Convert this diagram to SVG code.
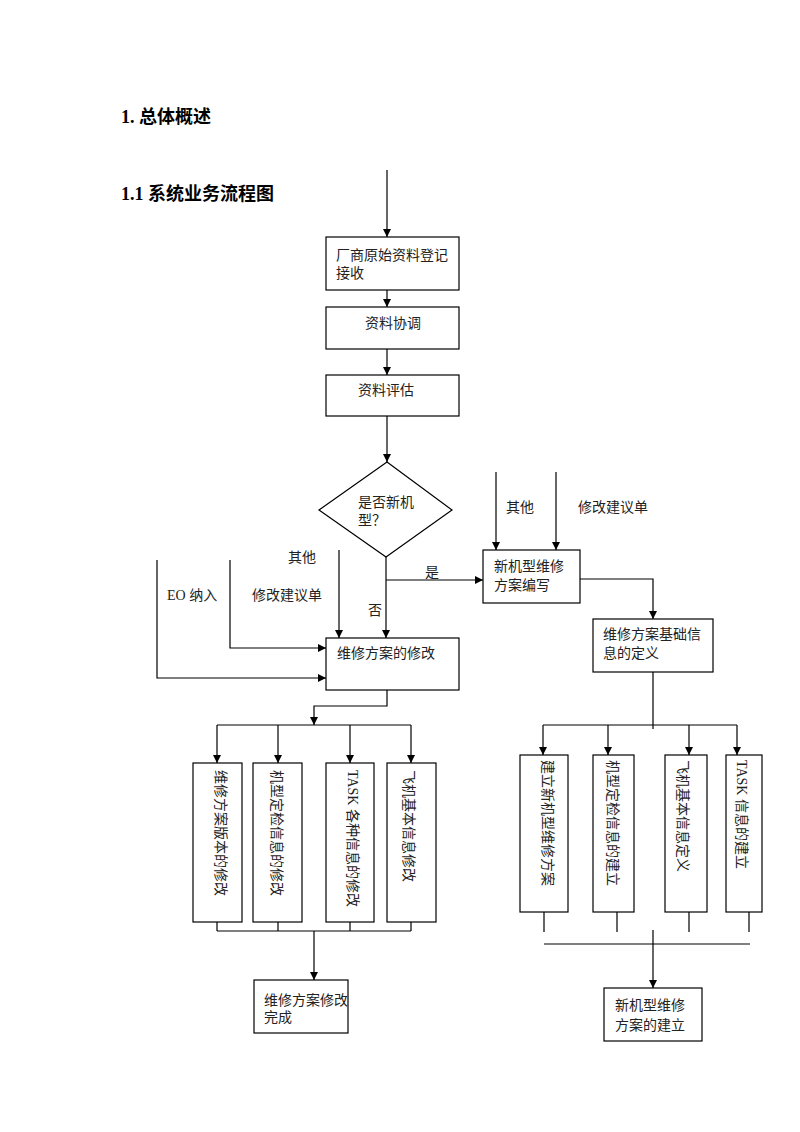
<svg xmlns="http://www.w3.org/2000/svg" width="800" height="1132" viewBox="0 0 800 1132">
<defs>
<marker id="arr" viewBox="0 0 10 10" refX="10" refY="5" markerWidth="8" markerHeight="8" markerUnits="userSpaceOnUse" orient="auto">
<path d="M0,0 L10,5 L0,10 z" fill="#000"/>
</marker>
<style>
.t{font-family:"Liberation Serif","Noto Sans CJK SC",serif;font-size:14px;fill:#222}
.h{font-family:"Liberation Serif","Noto Sans CJK SC",sans-serif;font-size:18px;font-weight:bold;fill:#000}
.b{fill:#fff;stroke:#000;stroke-width:1.2}
.l{fill:none;stroke:#000;stroke-width:1.2}
.a{fill:none;stroke:#000;stroke-width:1.2;marker-end:url(#arr)}
</style>
</defs>
<rect width="800" height="1132" fill="#fff"/>
<g id="titles">
<text class="h" x="121" y="123">1. 总体概述</text>
<text class="h" x="121" y="200">1.1 系统业务流程图</text>
</g>
<g id="connectors">
<path class="a" d="M387,170 V237"/>
<path class="a" d="M387,290 V307"/>
<path class="a" d="M387,349 V375"/>
<path class="a" d="M387,416 V462"/>
<path class="a" d="M386,557 V638"/>
<path class="a" d="M386,580 H483"/>
<path class="a" d="M339,550 V638"/>
<path class="a" d="M230,560 V648 H326"/>
<path class="a" d="M157,560 V678 H326"/>
<path class="a" d="M496,472 V550"/>
<path class="a" d="M556,472 V550"/>
<path class="a" d="M580,579 H653 V619"/>
<path class="a" d="M387,690 V706 H314 V725"/>
<path class="l" d="M217,725 H411"/>
<path class="a" d="M217,725 V763"/>
<path class="a" d="M278,725 V763"/>
<path class="a" d="M350,725 V763"/>
<path class="a" d="M411,725 V763"/>
<path class="l" d="M217,918 V931 M278,918 V931 M350,918 V931 M411,918 V931 M217,931 H411"/>
<path class="a" d="M314,931 V980"/>
<path class="l" d="M653,672 V729 M543,725 H737"/>
<path class="a" d="M543,725 V755"/>
<path class="a" d="M608,725 V755"/>
<path class="a" d="M689,725 V755"/>
<path class="a" d="M737,725 V755"/>
<path class="l" d="M544,900 V932 M617,900 V932 M689,900 V932 M749,900 V932 M544,944 H750"/>
<path class="a" d="M653,930 V988"/>
</g>
<g id="labels">
<text class="t" x="288" y="562">其他</text>
<text class="t" x="252" y="600">修改建议单</text>
<text class="t" x="167" y="600">EO 纳入</text>
<text class="t" x="425" y="577">是</text>
<text class="t" x="368" y="615">否</text>
<text class="t" x="506" y="512">其他</text>
<text class="t" x="578" y="512">修改建议单</text>
</g>
<g id="n1"><rect class="b" x="326" y="237" width="133" height="53"/>
<text class="t" x="336" y="260">厂商原始资料登记</text><text class="t" x="336" y="278">接收</text></g>
<g id="n2"><rect class="b" x="326" y="307" width="133" height="42"/>
<text class="t" x="365" y="328">资料协调</text></g>
<g id="n3"><rect class="b" x="326" y="375" width="133" height="41"/>
<text class="t" x="358" y="395">资料评估</text></g>
<g id="n4"><path class="b" d="M387,462 L452,510 L386,557 L319,510 Z"/>
<text class="t" x="358" y="507">是否新机</text><text class="t" x="358" y="525">型？</text></g>
<g id="n5"><rect class="b" x="326" y="638" width="133" height="52"/>
<text class="t" x="337" y="658">维修方案的修改</text></g>
<g id="n6"><rect class="b" x="483" y="550" width="97" height="53"/>
<text class="t" x="494" y="571">新机型维修</text><text class="t" x="494" y="590">方案编写</text></g>
<g id="n7"><rect class="b" x="593" y="619" width="120" height="53"/>
<text class="t" x="603" y="639">维修方案基础信</text><text class="t" x="603" y="658">息的定义</text></g>
<g id="n8"><rect class="b" x="193" y="763" width="49" height="159"/>
<text class="t" transform="translate(216,770) rotate(90)">维修方案版本的修改</text></g>
<g id="n9"><rect class="b" x="253" y="763" width="49" height="159"/>
<text class="t" transform="translate(272,770) rotate(90)">机型定检信息的修改</text></g>
<g id="n10"><rect class="b" x="326" y="763" width="48" height="159"/>
<text class="t" transform="translate(348,770) rotate(90)">TASK 各种信息的修改</text></g>
<g id="n11"><rect class="b" x="387" y="763" width="49" height="159"/>
<text class="t" transform="translate(404,770) rotate(90)">飞机基本信息修改</text></g>
<g id="n12"><rect class="b" x="520" y="755" width="48" height="157"/>
<text class="t" transform="translate(543,760) rotate(90)">建立新机型维修方案</text></g>
<g id="n13"><rect class="b" x="593" y="755" width="41" height="157"/>
<text class="t" transform="translate(608,760) rotate(90)">机型定检信息的建立</text></g>
<g id="n14"><rect class="b" x="665" y="755" width="42" height="157"/>
<text class="t" transform="translate(678,760) rotate(90)">飞机基本信息定义</text></g>
<g id="n15"><rect class="b" x="726" y="755" width="36" height="157"/>
<text class="t" transform="translate(737,760) rotate(90)">TASK 信息的建立</text></g>
<g id="n16"><rect class="b" x="254" y="980" width="94" height="53"/>
<text class="t" x="264" y="1005">维修方案修改</text><text class="t" x="264" y="1022">完成</text></g>
<g id="n17"><rect class="b" x="604" y="988" width="98" height="53"/>
<text class="t" x="615" y="1010">新机型维修</text><text class="t" x="615" y="1030">方案的建立</text></g>
</svg>
